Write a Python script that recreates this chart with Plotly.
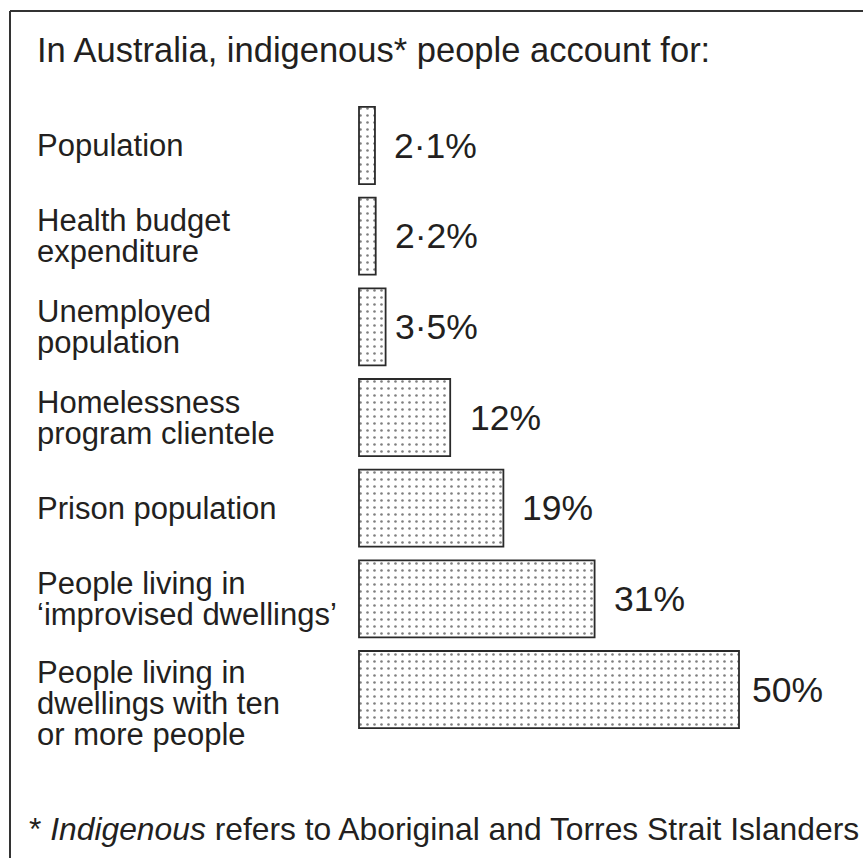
import plotly.graph_objects as go

# ---- data ----
categories = [
    "Population",
    "Health budget<br>expenditure",
    "Unemployed<br>population",
    "Homelessness<br>program clientele",
    "Prison population",
    "People living in<br>‘improvised dwellings’",
    "People living in<br>dwellings with ten<br>or more people",
]
values = [2.1, 2.2, 3.5, 12, 19, 31, 50]
value_labels = ["2·1%", "2·2%", "3·5%", "12%", "19%", "31%", "50%"]
title_text = "In Australia, indigenous* people account for:"
footnote_text = "* <i>Indigenous</i> refers to Aboriginal and Torres Strait Islanders"

# ---- style / layout constants ----
W, H = 863, 858
X0_PX = 359          # pixel of value 0
PX_PER_UNIT = 7.6
TOP_CENTER_PX = 145.5
PITCH_PX = 90.67
INK = "#231f20"
FONT = "Liberation Sans, Arial, Helvetica, sans-serif"
LABEL_SIZE = 31
LINE_STEP = 31
VALUE_SIZE = 35.5
label_extra_shift = [0, 0, 0, 0, 0, 0, -14]
value_xshift = [17, 17, 7, 18, 17, 17, 11]

xrange = [-X0_PX / PX_PER_UNIT, (W - X0_PX) / PX_PER_UNIT]
yrange = [(H - TOP_CENTER_PX) / PITCH_PX, -TOP_CENTER_PX / PITCH_PX]

fig = go.Figure()
fig.add_trace(go.Bar(
    x=values,
    y=categories,
    orientation="h",
    width=0.85,
    marker=dict(
        color="white",
        line=dict(color="#2a2a2a", width=1.8),
        pattern=dict(shape=".", size=7, solidity=0.11,
                     fgcolor="#000000", bgcolor="white", fillmode="overlay"),
    ),
    hoverinfo="skip",
))

annotations = []
# category labels, one annotation per line
for i, cat in enumerate(categories):
    lines = cat.split("<br>")
    n = len(lines)
    for j, line in enumerate(lines):
        offset = ((n - 1) / 2 - j) * LINE_STEP + label_extra_shift[i]
        annotations.append(dict(
            x=35 / W, xref="paper", y=cat, yref="y",
            text=line, showarrow=False, xanchor="left", yanchor="middle",
            yshift=offset, font=dict(family=FONT, size=LABEL_SIZE, color=INK),
        ))
# value labels
for i, (cat, v, lab) in enumerate(zip(categories, values, value_labels)):
    annotations.append(dict(
        x=v, xref="x", y=cat, yref="y", text=lab, showarrow=False,
        xanchor="left", yanchor="middle", xshift=value_xshift[i],
        font=dict(family=FONT, size=VALUE_SIZE, color=INK),
    ))
# title
annotations.append(dict(
    x=35 / W, xref="paper", y=1 - 50 / H, yref="paper", text=title_text,
    showarrow=False, xanchor="left", yanchor="middle",
    font=dict(family=FONT, size=34.5, color=INK),
))
# footnote
annotations.append(dict(
    x=27 / W, xref="paper", y=1 - 829 / H, yref="paper", text=footnote_text,
    showarrow=False, xanchor="left", yanchor="middle",
    font=dict(family=FONT, size=31.8, color=INK),
))

shapes = [
    dict(type="line", xref="paper", yref="paper", x0=10 / W, x1=1.01,
         y0=1 - 11 / H, y1=1 - 11 / H, line=dict(color="#333333", width=2)),
    dict(type="line", xref="paper", yref="paper", x0=10 / W, x1=10 / W,
         y0=1 - 11 / H, y1=-0.01, line=dict(color="#333333", width=2)),
]

fig.update_layout(
    width=W, height=H, autosize=False,
    margin=dict(l=0, r=0, t=0, b=0),
    paper_bgcolor="white", plot_bgcolor="white",
    showlegend=False,
    xaxis=dict(range=xrange, visible=False, fixedrange=True),
    yaxis=dict(range=yrange, visible=False, type="category", fixedrange=True),
    annotations=annotations,
    shapes=shapes,
)

fig.write_html(
    "out.html",
    config={"displayModeBar": False},
    post_script="document.body.style.margin='0px';document.body.style.padding='0px';",
)
